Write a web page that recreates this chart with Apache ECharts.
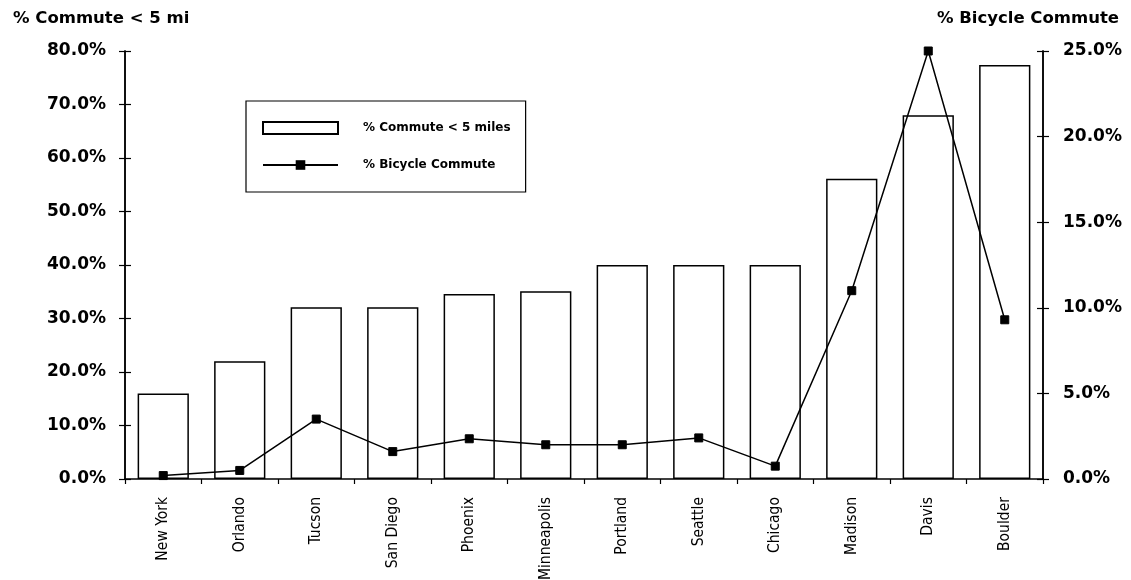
<!DOCTYPE html>
<html>
<head>
<meta charset="utf-8">
<script src="https://cdn.jsdelivr.net/npm/echarts@6/dist/echarts.min.js"></script>
<style>html,body{margin:0;padding:0;background:#fff}#c{width:1131px;height:580px}</style>
</head>
<body>
<div id="c"></div>
<script>
var cities = ['New York','Orlando','Tucson','San Diego','Phoenix','Minneapolis','Portland','Seattle','Chicago','Madison','Davis','Boulder'];
var commuteUnder5 = [16.0, 22.0, 32.1, 32.1, 34.6, 35.1, 40.0, 40.0, 40.0, 56.1, 68.0, 77.4];
var bicycleCommute = [0.2, 0.5, 3.5, 1.6, 2.35, 2.0, 2.0, 2.4, 0.75, 11.0, 25.0, 9.3];
var leftTicks = [0, 10, 20, 30, 40, 50, 60, 70, 80];
var rightTicks = [0, 5, 10, 15, 20, 25];

var FONT = 'DejaVu Sans';
var NARROW = '"DejaVu Sans Condensed", "Liberation Sans Narrow", "DejaVu Sans"';
var chart = echarts.init(document.getElementById('c'), null, {renderer:'canvas'});
var grid = {left:125, right:88, top:51, bottom:101, containLabel:false, outerBoundsMode:'none'};
function pct(v){return v.toFixed(1)+'%';}
var axisCommon = {
  axisLine:{show:true, lineStyle:{color:'#000', width:1.5}},
  splitLine:{show:false}
};
chart.setOption({
  animation:false,
  backgroundColor:'#fff',
  title:[
    {text:'% Commute < 5 mi', left:8, top:5, textStyle:{fontFamily:FONT, fontWeight:'bold', fontSize:16.5, color:'#000'}},
    {text:'% Bicycle Commute', right:7, top:5, textStyle:{fontFamily:FONT, fontWeight:'bold', fontSize:16.5, color:'#000'}}
  ],
  legend:{
    orient:'vertical', left:246, top:101,
    padding:[20, 15, 21, 16],
    itemWidth:75, itemHeight:12, itemGap:24,
    borderColor:'#000', borderWidth:1.2,
    textStyle:{fontFamily:FONT, fontWeight:'bold', fontSize:12, color:'#000', padding:[0,0,0,20]},
    data:[{name:'% Commute < 5 miles', icon:'rect'}, {name:'% Bicycle Commute'}]
  },
  grid:grid,
  xAxis:{
    type:'category', data:cities,
    axisLine:{show:true, lineStyle:{color:'#000', width:1.5}},
    axisTick:{show:true, alignWithLabel:false, length:5, lineStyle:{color:'#000', width:1.2}},
    axisLabel:{rotate:90, fontFamily:NARROW, fontSize:15.5, color:'#000', margin:18}
  },
  yAxis:[
    Object.assign({type:'value', position:'left', min:leftTicks[0], max:leftTicks[leftTicks.length-1], interval:10,
      axisTick:{show:true, inside:false, length:6, lineStyle:{color:'#000', width:1.2}},
      axisLabel:{formatter:pct, fontFamily:FONT, fontWeight:'bold', fontSize:17, color:'#000', margin:19}}, axisCommon),
    Object.assign({type:'value', position:'right', min:rightTicks[0], max:rightTicks[rightTicks.length-1], interval:5,
      axisTick:{show:true, inside:false, length:6, lineStyle:{color:'#000', width:1.2}},
      axisLabel:{formatter:pct, fontFamily:FONT, fontWeight:'bold', fontSize:17, color:'#000', margin:20}}, axisCommon),
    Object.assign({type:'value', position:'left', min:0, max:80, interval:10,
      axisTick:{show:true, inside:true, length:6, lineStyle:{color:'#000', width:1.2}},
      axisLabel:{show:false}}, axisCommon),
    Object.assign({type:'value', position:'right', min:0, max:25, interval:5,
      axisTick:{show:true, inside:true, length:6, lineStyle:{color:'#000', width:1.2}},
      axisLabel:{show:false}}, axisCommon)
  ],
  series:[
    {name:'% Commute < 5 miles', type:'bar', yAxisIndex:0, data:commuteUnder5,
      barCategoryGap:'33%',
      itemStyle:{color:'#fff', borderColor:'#000', borderWidth:1.5}},
    {name:'% Bicycle Commute', type:'line', yAxisIndex:1, data:bicycleCommute, z:5,
      symbol:'rect', symbolSize:8,
      lineStyle:{color:'#000', width:1.5},
      itemStyle:{color:'#000', borderColor:'#000'}}
  ]
});
</script>
</body>
</html>
